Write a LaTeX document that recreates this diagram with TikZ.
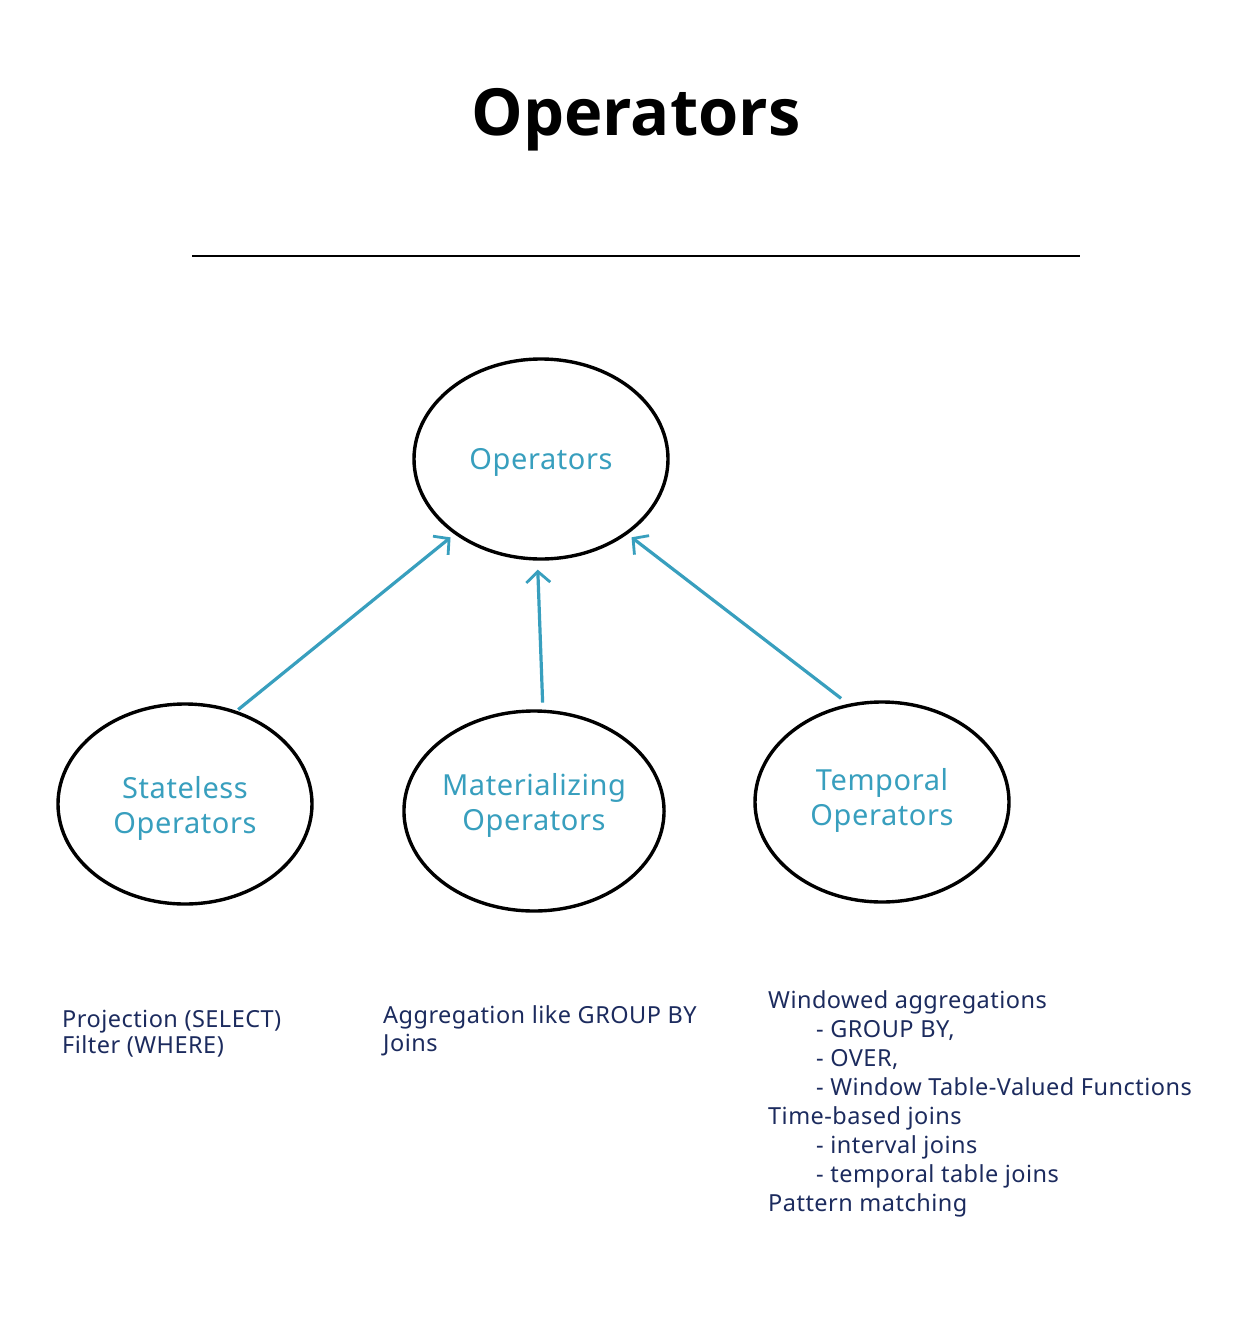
\documentclass[tikz,border=0pt]{standalone}
\usepackage{fontspec}
\setmainfont{Noto Sans}
\newfontfamily\titlefont{Open Sans}
\newfontfamily\handfont[LetterSpace=2]{Noto Sans}
\usetikzlibrary{shapes.geometric,arrows.meta}
\definecolor{teal1}{HTML}{389FBE}
\definecolor{navy1}{HTML}{1C2B5E}
\newcommand{\lowerby}[2]{\raisebox{0pt}[\dimexpr\height+#1\relax][\depth]{#2}}
\newcommand{\raiseby}[2]{\raisebox{0pt}[\height][\dimexpr\depth+#1\relax]{#2}}
\tikzset{
  opcircle/.style={draw=black, line width=3.4pt, ellipse, minimum width=254pt, minimum height=200pt, inner sep=0pt,
     text=teal1, font=\handfont\fontsize{29}{35}\selectfont, align=center},
  conn/.style={draw=teal1, line width=3.2pt, -{Straight Barb[length=11pt,width=24pt,line width=2.8pt]}},
  notes/.style={text=navy1, font=\handfont\fontsize{23.5}{28}\selectfont, align=left, anchor=north west, inner sep=0pt}
}
\begin{document}
\begin{tikzpicture}[x=1pt,y=-1pt]
\useasboundingbox (0,0) rectangle (1260,1320);
\fill[white] (0,0) rectangle (1260,1320);
\node[font=\titlefont\bfseries\fontsize{65}{78}\selectfont, anchor=base] (title) at (636,135) {Operators};
\coordinate (ruleL) at (192,256);
\coordinate (ruleR) at (1080,256);
\draw[line width=1.3pt] (ruleL) -- (ruleR);

\node[opcircle] (top) at (541,459) {\lowerby{6pt}{Operators}};
\node[opcircle] (stateless) at (185,804) {\lowerby{10pt}{\begin{tabular}{@{}c@{}}Stateless\\Operators\end{tabular}}};
\node[opcircle] (mat) at (534,811) {\raiseby{10pt}{\begin{tabular}{@{}c@{}}Materializing\\Operators\end{tabular}}};
\node[opcircle] (temp) at (882,802) {\raiseby{2pt}{\begin{tabular}{@{}c@{}}Temporal\\Operators\end{tabular}}};

\draw[conn, shorten <=2pt, shorten >=5pt] (stateless.61) -- (top.221);
\draw[conn, shorten <=7pt, shorten >=9pt] (mat.85) -- (top.268);
\draw[conn, shorten <=9pt, shorten >=5pt] (temp.109) -- (top.319);

\node[notes, font=\handfont\fontsize{23.5}{26}\selectfont] (n1) at (62,1010) {Projection (SELECT)\\Filter (WHERE)};
\node[notes] (n2) at (383,1005) {Aggregation like GROUP BY\\Joins};
\node[notes, font=\handfont\fontsize{23.5}{29}\selectfont] (n3) at (768,990) {Windowed aggregations\\
\hspace*{48pt}- GROUP BY,\\
\hspace*{48pt}- OVER,\\
\hspace*{48pt}- Window Table-Valued Functions\\
Time-based joins\\
\hspace*{48pt}- interval joins\\
\hspace*{48pt}- temporal table joins\\
Pattern matching};
\end{tikzpicture}
\end{document}
